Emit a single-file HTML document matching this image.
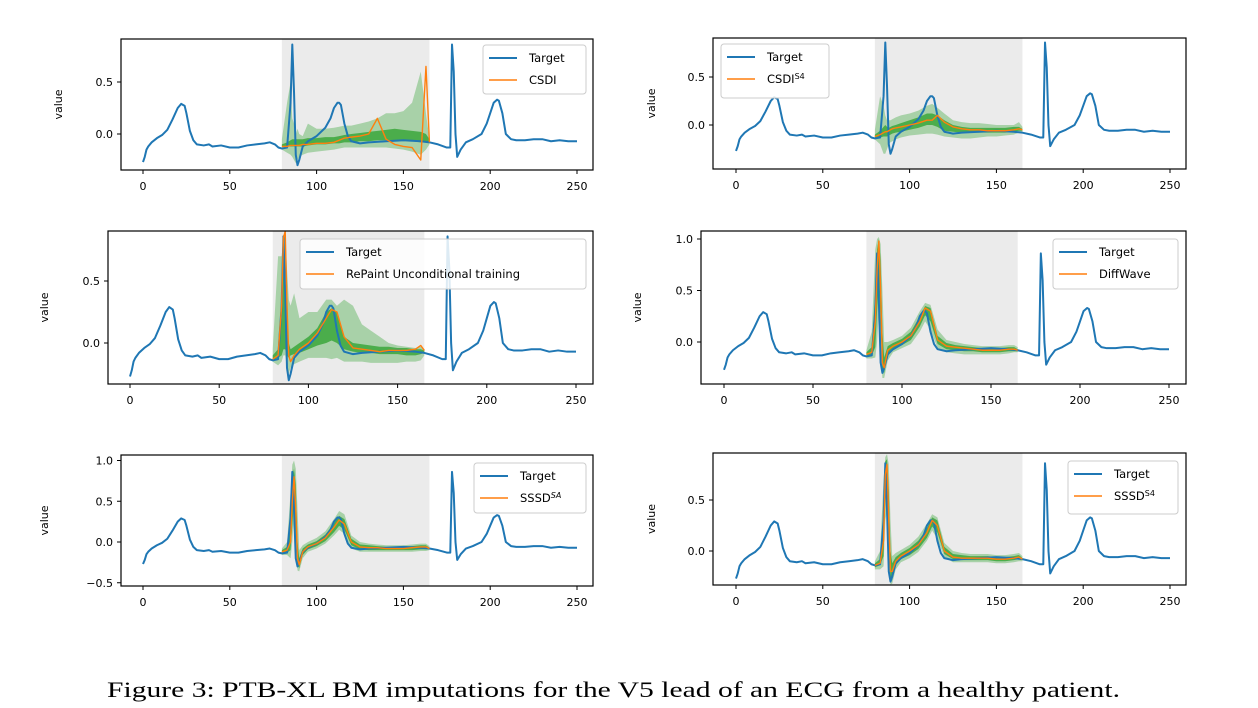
<!DOCTYPE html>
<html><head><meta charset="utf-8"><style>
body{margin:0;background:#fff;width:1258px;height:708px;overflow:hidden}
svg{display:block}
text{font-family:"DejaVu Sans","Liberation Sans",sans-serif}
</style></head><body>
<svg id="fig" width="1258" height="708" xmlns="http://www.w3.org/2000/svg">
<text x="107" y="697" textLength="1013" lengthAdjust="spacingAndGlyphs" style="font-family:'Liberation Serif',serif;font-size:22px">Figure 3: PTB-XL BM imputations for the V5 lead of an ECG from a healthy patient.</text>
</svg>
<script>
// Target ECG
const tX=[0,1,2,3,5,8,11,14,17,20,22,24,25,27,29,31,35,38,40,45,50,55,60,65,70,73,76,78,80,83,85,86,87,88,89,90,92,95,100,105,108,110,112,113,114,116,118,120,125,130,140,150,160,165,170,175,177,178,179,180,181,183,186,190,195,198,200,202,204,205,207,209,212,215,220,225,230,235,240,245,250];
const tY=[-0.27,-0.22,-0.15,-0.12,-0.08,-0.04,-0.01,0.04,0.14,0.25,0.29,0.27,0.2,0.03,-0.06,-0.1,-0.11,-0.1,-0.12,-0.11,-0.13,-0.13,-0.11,-0.1,-0.09,-0.08,-0.1,-0.13,-0.14,-0.13,0.3,0.86,0.4,-0.2,-0.3,-0.25,-0.12,-0.07,-0.02,0.06,0.15,0.25,0.3,0.3,0.28,0.1,-0.02,-0.07,-0.09,-0.08,-0.07,-0.06,-0.07,-0.08,-0.1,-0.13,-0.13,0.86,0.6,0.0,-0.22,-0.15,-0.08,-0.05,0.0,0.1,0.2,0.3,0.33,0.32,0.2,0.0,-0.05,-0.06,-0.06,-0.05,-0.05,-0.07,-0.06,-0.07,-0.07];
const xi=[80,83,85,86,87,88,89,90,92,95,100,105,110,113,116,120,125,130,135,140,145,150,155,160,163,165];
const xTicks=[0,50,100,150,200,250];
const shadeRange=[80,165];
// Panel 1 CSDI
const med1=[-0.12,-0.12,-0.11,-0.11,-0.11,-0.11,-0.11,-0.11,-0.1,-0.1,-0.09,-0.09,-0.08,-0.06,-0.04,-0.03,-0.02,0.0,0.15,-0.05,-0.1,-0.12,-0.13,-0.25,0.65,-0.08];
const in1lo=[-0.12,-0.12,-0.12,-0.12,-0.12,-0.12,-0.12,-0.12,-0.12,-0.11,-0.1,-0.1,-0.09,-0.09,-0.08,-0.08,-0.07,-0.07,-0.06,-0.06,-0.06,-0.06,-0.07,-0.08,-0.08,-0.08];
const in1hi=[-0.1,-0.08,-0.06,-0.05,-0.05,-0.05,-0.05,-0.05,-0.05,-0.04,-0.04,-0.03,-0.03,-0.02,-0.01,0.0,0.01,0.02,0.03,0.04,0.05,0.04,0.03,0.02,0.0,-0.05];
const out1lo=[-0.15,-0.18,-0.2,-0.22,-0.25,-0.28,-0.25,-0.22,-0.2,-0.18,-0.17,-0.16,-0.15,-0.14,-0.13,-0.13,-0.13,-0.13,-0.13,-0.13,-0.14,-0.15,-0.17,-0.2,-0.15,-0.1];
const out1hi=[-0.05,0.3,0.5,0.15,0.1,0.0,0.05,0.0,-0.02,0.1,0.05,0.05,0.06,0.07,0.08,0.08,0.1,0.12,0.15,0.2,0.2,0.22,0.3,0.6,0.2,-0.05];
// Panel 2 CSDI S4
const med2=[-0.12,-0.1,-0.08,-0.07,-0.07,-0.06,-0.05,-0.04,-0.03,-0.02,0.0,0.02,0.05,0.05,0.1,0.03,-0.02,-0.04,-0.05,-0.05,-0.06,-0.06,-0.06,-0.05,-0.04,-0.05];
const in2lo=[-0.14,-0.13,-0.12,-0.12,-0.12,-0.11,-0.1,-0.09,-0.08,-0.07,-0.05,-0.03,0.0,0.0,-0.02,-0.06,-0.07,-0.08,-0.08,-0.08,-0.08,-0.08,-0.08,-0.07,-0.06,-0.06];
const in2hi=[-0.1,-0.06,-0.02,0.0,-0.02,-0.03,-0.02,-0.01,0.0,0.02,0.05,0.08,0.12,0.12,0.1,0.05,0.0,-0.02,-0.03,-0.03,-0.03,-0.03,-0.03,-0.02,-0.02,-0.04];
const out2lo=[-0.15,-0.2,-0.3,-0.3,-0.25,-0.2,-0.18,-0.17,-0.15,-0.13,-0.11,-0.1,-0.09,-0.09,-0.1,-0.12,-0.13,-0.14,-0.14,-0.13,-0.12,-0.12,-0.11,-0.1,-0.08,-0.07];
const out2hi=[-0.05,0.3,0.2,0.1,0.05,0.05,0.05,0.06,0.08,0.1,0.12,0.15,0.2,0.22,0.18,0.12,0.05,0.03,0.02,0.02,0.01,0.0,0.0,0.0,0.03,-0.02];
// Panel 3 RePaint
const med3=[-0.13,-0.1,0.3,0.85,0.9,0.3,-0.1,-0.15,-0.1,-0.05,0.0,0.08,0.2,0.27,0.25,0.05,-0.04,-0.05,-0.06,-0.07,-0.06,-0.06,-0.06,-0.05,-0.02,-0.06];
const in3lo=[-0.14,-0.12,-0.1,-0.05,-0.05,-0.1,-0.12,-0.1,-0.09,-0.08,-0.05,-0.02,0.0,0.02,0.0,-0.05,-0.07,-0.08,-0.08,-0.09,-0.09,-0.09,-0.1,-0.1,-0.09,-0.08];
const in3hi=[-0.1,-0.05,0.2,0.6,0.6,0.2,0.0,-0.05,-0.03,0.0,0.05,0.12,0.25,0.28,0.25,0.05,0.0,-0.01,-0.02,-0.03,-0.03,-0.04,-0.04,-0.05,-0.05,-0.06];
const out3lo=[-0.15,-0.18,-0.15,-0.1,-0.1,-0.2,-0.25,-0.2,-0.17,-0.15,-0.12,-0.12,-0.12,-0.13,-0.12,-0.15,-0.15,-0.15,-0.16,-0.16,-0.16,-0.16,-0.15,-0.15,-0.14,-0.1];
const out3hi=[-0.05,0.7,0.7,0.85,0.9,0.6,0.35,0.3,0.4,0.2,0.25,0.25,0.35,0.35,0.3,0.35,0.3,0.15,0.1,0.05,0.0,-0.02,-0.03,-0.04,-0.03,-0.05];
// Panel 4 DiffWave
const med4=[-0.12,-0.1,0.2,0.7,0.98,0.5,-0.2,-0.25,-0.08,-0.04,0.0,0.06,0.2,0.33,0.3,0.02,-0.04,-0.05,-0.06,-0.07,-0.08,-0.08,-0.08,-0.07,-0.07,-0.08];
const in4lo=[-0.14,-0.13,-0.05,0.3,0.6,0.2,-0.28,-0.3,-0.12,-0.07,-0.03,0.02,0.15,0.26,0.2,-0.02,-0.07,-0.08,-0.09,-0.09,-0.1,-0.1,-0.1,-0.09,-0.09,-0.09];
const in4hi=[-0.1,-0.05,0.5,0.9,1.0,0.8,0.1,-0.15,-0.04,-0.01,0.03,0.1,0.25,0.35,0.33,0.06,-0.01,-0.03,-0.04,-0.05,-0.06,-0.06,-0.06,-0.05,-0.05,-0.07];
const out4lo=[-0.16,-0.16,-0.15,0.0,0.3,-0.1,-0.35,-0.35,-0.18,-0.1,-0.06,-0.02,0.1,0.2,0.12,-0.06,-0.1,-0.11,-0.12,-0.12,-0.12,-0.12,-0.12,-0.11,-0.1,-0.1];
const out4hi=[-0.08,0.1,0.9,1.0,1.02,0.95,0.5,0.0,0.0,0.02,0.06,0.14,0.3,0.38,0.36,0.12,0.02,0.0,-0.02,-0.03,-0.04,-0.04,-0.04,-0.03,-0.03,-0.05];
// Panel 5 SSSD SA
const med5=[-0.12,-0.1,0.0,0.5,0.8,0.4,-0.2,-0.28,-0.12,-0.06,-0.02,0.05,0.18,0.27,0.22,0.0,-0.06,-0.07,-0.07,-0.08,-0.08,-0.08,-0.07,-0.06,-0.06,-0.08];
const in5lo=[-0.14,-0.13,-0.1,0.2,0.5,0.1,-0.28,-0.32,-0.16,-0.09,-0.05,0.01,0.12,0.2,0.15,-0.04,-0.09,-0.1,-0.1,-0.1,-0.1,-0.1,-0.1,-0.09,-0.09,-0.09];
const in5hi=[-0.1,-0.06,0.3,0.8,0.9,0.7,0.0,-0.2,-0.08,-0.03,0.01,0.09,0.23,0.32,0.28,0.04,-0.03,-0.04,-0.05,-0.06,-0.06,-0.06,-0.05,-0.04,-0.04,-0.07];
const out5lo=[-0.16,-0.16,-0.2,0.0,0.3,-0.1,-0.35,-0.36,-0.2,-0.12,-0.08,-0.02,0.08,0.15,0.1,-0.08,-0.12,-0.12,-0.12,-0.12,-0.12,-0.12,-0.12,-0.11,-0.11,-0.1];
const out5hi=[-0.08,0.0,0.6,0.95,1.0,0.9,0.4,-0.1,-0.04,0.0,0.05,0.13,0.28,0.38,0.34,0.08,0.0,-0.02,-0.03,-0.04,-0.04,-0.04,-0.03,-0.02,-0.02,-0.05];
// Panel 6 SSSD S4
const med6=[-0.14,-0.12,0.1,0.75,0.85,0.3,-0.2,-0.2,-0.1,-0.05,0.0,0.06,0.18,0.3,0.25,0.0,-0.06,-0.07,-0.07,-0.07,-0.07,-0.08,-0.08,-0.07,-0.06,-0.08];
const in6lo=[-0.16,-0.14,-0.05,0.5,0.6,0.1,-0.28,-0.28,-0.14,-0.08,-0.04,0.02,0.13,0.24,0.18,-0.03,-0.08,-0.09,-0.09,-0.09,-0.09,-0.1,-0.1,-0.09,-0.08,-0.09];
const in6hi=[-0.12,-0.08,0.4,0.88,0.9,0.6,0.0,-0.12,-0.06,-0.02,0.03,0.1,0.22,0.33,0.3,0.04,-0.03,-0.04,-0.05,-0.05,-0.05,-0.06,-0.06,-0.05,-0.04,-0.07];
const out6lo=[-0.18,-0.18,-0.15,0.3,0.4,-0.1,-0.33,-0.32,-0.18,-0.11,-0.07,-0.01,0.1,0.2,0.12,-0.06,-0.11,-0.11,-0.11,-0.11,-0.11,-0.12,-0.12,-0.11,-0.1,-0.1];
const out6hi=[-0.1,0.0,0.7,0.92,0.95,0.85,0.3,-0.05,-0.02,0.01,0.06,0.14,0.27,0.36,0.33,0.08,0.0,-0.02,-0.03,-0.03,-0.03,-0.04,-0.04,-0.03,-0.02,-0.05];
const labels=["CSDI","CSDI<tspan baseline-shift='super' font-size='8'>S4</tspan>","RePaint Unconditional training","DiffWave","SSSD<tspan baseline-shift='super' font-size='8' font-style='italic'>SA</tspan>","SSSD<tspan baseline-shift='super' font-size='8'>S4</tspan>"];
const yTicks=[[0,0.5],[0,0.5],[0,0.5],[0,0.5,1.0],[-0.5,0,0.5,1.0],[0,0.5]];

const meds=[med1,med2,med3,med4,med5,med6];
const inLo=[in1lo,in2lo,in3lo,in4lo,in5lo,in6lo], inHi=[in1hi,in2hi,in3hi,in4hi,in5hi,in6hi];
const outLo=[out1lo,out2lo,out3lo,out4lo,out5lo,out6lo], outHi=[out1hi,out2hi,out3hi,out4hi,out5hi,out6hi];
// layout
const P=[
 {bx0:121,by0:39,bx1:593,by1:170,x0:143,x250:577,yz:134,ppu:104,lg:[483,45,103,49],yt:62},
 {bx0:713,by0:38,bx1:1186,by1:169,x0:736,x250:1170,yz:125,ppu:96,lg:[721,44,108,54],yt:655},
 {bx0:108,by0:231,bx1:593,by1:384,x0:130,x250:576,yz:343,ppu:124,lg:[300,239,286,50],yt:48},
 {bx0:701,by0:231,bx1:1186,by1:384,x0:724,x250:1169,yz:342,ppu:103,lg:[1053,239,125,50],yt:641},
 {bx0:121,by0:455,bx1:593,by1:586,x0:143,x250:577,yz:542,ppu:81.5,lg:[474,463,112,50],yt:48},
 {bx0:713,by0:453,bx1:1186,by1:585,x0:736,x250:1170,yz:551,ppu:102,lg:[1068,461,110,53],yt:655}
];
const NS="http://www.w3.org/2000/svg";
const svg=document.getElementById('fig');
function mk(tag,attrs,parent){const e=document.createElementNS(NS,tag);for(const k in attrs)e.setAttribute(k,attrs[k]);(parent||svg).appendChild(e);return e;}
P.forEach((p,i)=>{
 const g=mk('g',{});
 
 
 const sx=v=>p.x0+(p.x250-p.x0)*v/250, sy=v=>p.yz-p.ppu*v;
 const cp=mk('clipPath',{id:'c'+i},g);
 mk('rect',{x:p.bx0,y:p.by0,width:p.bx1-p.bx0,height:p.by1-p.by0},cp);
 const pg=mk('g',{'clip-path':'url(#c'+i+')'},g);
 const sh=mk('rect',{x:sx(shadeRange[0]),y:p.by0,width:sx(shadeRange[1])-sx(shadeRange[0]),height:p.by1-p.by0,fill:'#ebebeb'},pg);
 
 
 const band=(lo,hi,op,name)=>{let d='M'+xi.map((x,k)=>sx(x)+','+sy(hi[k])).join('L');
  d+='L'+xi.slice().reverse().map((x,k)=>sx(x)+','+sy(lo[xi.length-1-k])).join('L')+'Z';
  const e=mk('path',{d:d,fill:'#2ca02c','fill-opacity':op},pg);
  
  };
 band(outLo[i],outHi[i],0.35,'outer-quantile-band');
 band(inLo[i],inHi[i],0.75,'inner-quantile-band');
 const tl=mk('polyline',{points:tX.map((x,k)=>sx(x)+','+sy(tY[k])).join(' '),fill:'none',stroke:'#1f77b4','stroke-width':2,'stroke-linejoin':'round'},pg);
 
 
 const ml=mk('polyline',{points:xi.map((x,k)=>sx(x)+','+sy(meds[i][k])).join(' '),fill:'none',stroke:'#ff7f0e','stroke-width':1.4,'stroke-linejoin':'round'},pg);
 
 
 const fr=mk('rect',{x:p.bx0,y:p.by0,width:p.bx1-p.bx0,height:p.by1-p.by0,fill:'none',stroke:'#000','stroke-width':1.2},g);
 
 
 xTicks.forEach(t=>{const x=sx(t);mk('line',{x1:x,y1:p.by1,x2:x,y2:p.by1+4,stroke:'#000'},g);
  const tx=mk('text',{x:x,y:p.by1+20,'text-anchor':'middle','font-size':11},g);tx.textContent=t;
  
  });
 yTicks[i].forEach(t=>{const y=sy(t);mk('line',{x1:p.bx0-4,y1:y,x2:p.bx0,y2:y,stroke:'#000'},g);
  const ty=mk('text',{x:p.bx0-8,y:y+4,'text-anchor':'end','font-size':11},g);ty.textContent=(t<0?'\u2212':'')+Math.abs(t).toFixed(1);
  
  });
 const yl=mk('text',{x:p.yt,y:(p.by0+p.by1)/2,'text-anchor':'middle','font-size':11,transform:'rotate(-90 '+p.yt+' '+(p.by0+p.by1)/2+')'},g);yl.textContent='value';
 
 
 const [lx,ly,lw,lh]=p.lg;
 const lgG=mk('g',{},g);
 
 
 mk('rect',{x:lx,y:ly,width:lw,height:lh,rx:3,fill:'#fff','fill-opacity':0.85,stroke:'#ccc'},lgG);
 mk('line',{x1:lx+6,y1:ly+13,x2:lx+34,y2:ly+13,stroke:'#1f77b4','stroke-width':2},lgG);
 const t1=mk('text',{x:lx+46,y:ly+17,'font-size':11.5},lgG);t1.textContent='Target';
 
 
 mk('line',{x1:lx+6,y1:ly+35,x2:lx+34,y2:ly+35,stroke:'#ff7f0e','stroke-width':1.4},lgG);
 const t2=mk('text',{x:lx+46,y:ly+39,'font-size':11.5},lgG);t2.innerHTML=labels[i];
 
 
});
</script>
</body></html>
